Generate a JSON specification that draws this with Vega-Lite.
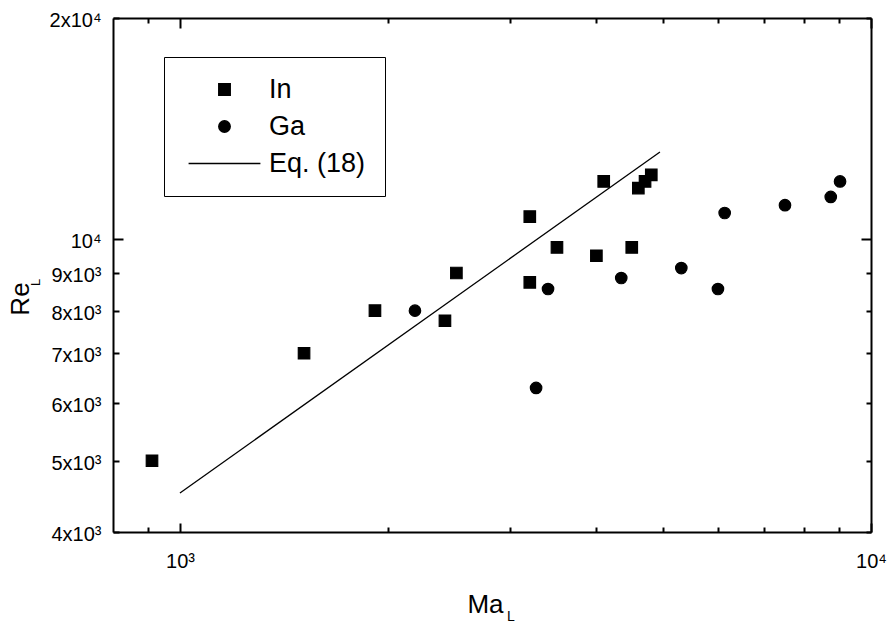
{
  "$schema": "https://vega.github.io/schema/vega-lite/v6.json",
  "autosize": {"type": "none"},
  "padding": {"left": 113, "top": 18, "right": 17, "bottom": 92},
  "width": 758,
  "height": 514,
  "background": "white",
  "config": {
    "font": "Liberation Sans",
    "view": {"stroke": null},
    "axis": {
      "labelFont": "Liberation Sans", "titleFont": "Liberation Sans",
      "labelColor": "black", "titleColor": "black", "titleFontWeight": "normal",
      "domainColor": "black", "tickColor": "black", "domainWidth": 2, "tickWidth": 2,
      "grid": false, "labelFontSize": 20, "labelOverlap": false, "labelFlush": false, "labelBound": false
    },
    "legend": {"labelFont": "Liberation Sans", "labelColor": "black"}
  },
  "datasets": {
    "pts": [
      {"Ma": 911, "Re": 5000, "Series": "In"},
      {"Ma": 1512, "Re": 7000, "Series": "In"},
      {"Ma": 1915, "Re": 8000, "Series": "In"},
      {"Ma": 2418, "Re": 7750, "Series": "In"},
      {"Ma": 2512, "Re": 9000, "Series": "In"},
      {"Ma": 3208, "Re": 10740, "Series": "In"},
      {"Ma": 3208, "Re": 8740, "Series": "In"},
      {"Ma": 3512, "Re": 9750, "Series": "In"},
      {"Ma": 4104, "Re": 11990, "Series": "In"},
      {"Ma": 4005, "Re": 9500, "Series": "In"},
      {"Ma": 4506, "Re": 9750, "Series": "In"},
      {"Ma": 4606, "Re": 11740, "Series": "In"},
      {"Ma": 4710, "Re": 11990, "Series": "In"},
      {"Ma": 4809, "Re": 12240, "Series": "In"},
      {"Ma": 2188, "Re": 8000, "Series": "Ga"},
      {"Ma": 3276, "Re": 6280, "Series": "Ga"},
      {"Ma": 3409, "Re": 8560, "Series": "Ga"},
      {"Ma": 4351, "Re": 8860, "Series": "Ga"},
      {"Ma": 5315, "Re": 9140, "Series": "Ga"},
      {"Ma": 6005, "Re": 8560, "Series": "Ga"},
      {"Ma": 6141, "Re": 10860, "Series": "Ga"},
      {"Ma": 7508, "Re": 11130, "Series": "Ga"},
      {"Ma": 8745, "Re": 11420, "Series": "Ga"},
      {"Ma": 9020, "Re": 11990, "Series": "Ga"}
    ],
    "eq": [
      {"Ma": 1000, "Re": 4520},
      {"Ma": 4950, "Re": 13150}
    ]
  },
  "layer": [
    {
      "data": {"name": "pts"},
      "mark": {"type": "point", "filled": true, "size": 132, "opacity": 1, "color": "black", "stroke": "black", "strokeWidth": 1.2},
      "encoding": {
        "x": {
          "field": "Ma", "type": "quantitative",
          "scale": {"type": "log", "domain": [800, 10000], "nice": false},
          "axis": {
            "orient": "bottom",
            "values": [900, 1000, 2000, 3000, 4000, 5000, 6000, 7000, 8000, 9000, 10000],
            "labelExpr": "datum.value == 1000 ? '10³' : datum.value == 10000 ? '10⁴' : ''",
            "tickSize": {"condition": {"test": "datum.value == 1000 || datum.value == 10000", "value": -9}, "value": -5},
            "labelPadding": 28,
            "title": "Ma", "titleFontSize": 26, "titleX": 372, "titleY": 80,
            "titleAlign": "center", "titleBaseline": "alphabetic", "titleAngle": 0
          }
        },
        "y": {
          "field": "Re", "type": "quantitative",
          "scale": {"type": "log", "domain": [4000, 20000], "nice": false},
          "axis": {
            "orient": "left",
            "values": [4000, 5000, 6000, 7000, 8000, 9000, 10000, 20000],
            "labelExpr": "datum.value == 10000 ? '10⁴' : datum.value == 20000 ? '2x10⁴' : (datum.value / 1000) + 'x10³'",
            "tickSize": {"condition": {"test": "datum.value == 10000", "value": -10}, "value": -6},
            "labelPadding": {"condition": {"test": "datum.value == 10000", "value": 22}, "value": 18},
            "labelOffset": 2.5,
            "title": "Re", "titleFontSize": 26, "titleX": -85, "titleY": 280.5,
            "titleAlign": "center", "titleBaseline": "alphabetic", "titleAngle": -90
          }
        },
        "shape": {
          "field": "Series", "type": "nominal",
          "scale": {"domain": ["In", "Ga", "Eq. (18)"], "range": ["square", "circle", "M-6.3,0L6.3,0"]},
          "legend": {
            "orient": "none", "legendX": 51, "legendY": 39, "title": null,
            "padding": 19, "labelFontSize": 27, "labelOffset": 31, "symbolOffset": 28,
            "rowPadding": 9, "symbolSize": 130, "strokeColor": "black", "fillColor": "white",
            "labelLimit": 300
          }
        }
      }
    },
    {
      "data": {"name": "eq"},
      "mark": {"type": "line", "color": "black", "strokeWidth": 1.3},
      "encoding": {
        "x": {
          "field": "Ma", "type": "quantitative",
          "scale": {"type": "log", "domain": [800, 10000], "nice": false},
          "axis": {
            "orient": "top", "labels": false, "title": null,
            "values": [900, 1000, 2000, 3000, 4000, 5000, 6000, 7000, 8000, 9000, 10000],
            "tickSize": {"condition": {"test": "datum.value == 1000 || datum.value == 10000", "value": -10}, "value": -5}
          }
        },
        "y": {
          "field": "Re", "type": "quantitative",
          "scale": {"type": "log", "domain": [4000, 20000], "nice": false},
          "axis": {
            "orient": "right", "labels": false, "title": null,
            "values": [4000, 5000, 6000, 7000, 8000, 9000, 10000, 20000],
            "tickSize": {"condition": {"test": "datum.value == 10000", "value": -10}, "value": -5}
          }
        }
      }
    },
    {
      "data": {"name": "eq"},
      "mark": {"type": "point", "opacity": 0},
      "encoding": {
        "x": {
          "field": "Ma", "type": "quantitative",
          "scale": {"type": "log", "domain": [800, 10000], "nice": false},
          "axis": {
            "orient": "bottom", "labels": false, "ticks": false, "domain": false,
            "title": "L", "titleFontSize": 14, "titleX": 397.5, "titleY": 88,
            "titleAlign": "center", "titleBaseline": "alphabetic", "titleAngle": 0
          }
        },
        "y": {
          "field": "Re", "type": "quantitative",
          "scale": {"type": "log", "domain": [4000, 20000], "nice": false},
          "axis": {
            "orient": "left", "labels": false, "ticks": false, "domain": false,
            "title": "L", "titleFontSize": 13, "titleX": -74, "titleY": 264,
            "titleAlign": "center", "titleBaseline": "alphabetic", "titleAngle": -90
          }
        }
      }
    }
  ],
  "resolve": {"axis": {"x": "independent", "y": "independent"}}
}
